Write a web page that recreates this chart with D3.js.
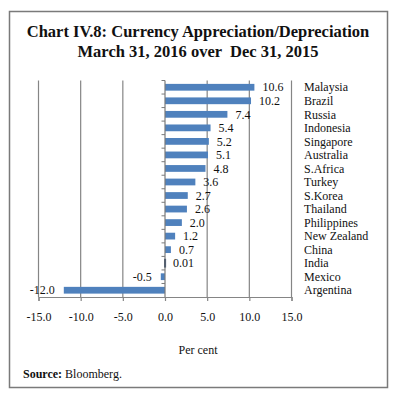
<!DOCTYPE html>
<html>
<head>
<meta charset="utf-8">
<script src="https://cdn.jsdelivr.net/npm/d3@7"></script>
<style>
  body { margin: 0; background: #fff; }
  svg { display: block; }
  text { font-family: "Liberation Serif", "DejaVu Serif", serif; fill: #111; }
</style>
</head>
<body>
<svg id="chart" width="396" height="393"></svg>
<script>
// chart data
const countries = ["Malaysia", "Brazil", "Russia", "Indonesia", "Singapore", "Australia",
  "S.Africa", "Turkey", "S.Korea", "Thailand", "Philippines", "New Zealand",
  "China", "India", "Mexico", "Argentina"];
const values = [10.6, 10.2, 7.4, 5.4, 5.2, 5.1, 4.8, 3.6, 2.7, 2.6, 2.0, 1.2, 0.7, 0.01, -0.5, -12.0];
const valueLabels = ["10.6", "10.2", "7.4", "5.4", "5.2", "5.1", "4.8", "3.6", "2.7", "2.6",
  "2.0", "1.2", "0.7", "0.01", "-0.5", "-12.0"];
const xTicks = [-15, -10, -5, 0, 5, 10, 15];
const highlight = "India";

const data = countries.map((c, i) => ({ name: c, value: values[i], label: valueLabels[i] }));

const svg = d3.select("#chart");

// outer frame
svg.append("rect")
  .attr("x", 9.5).attr("y", 11.5)
  .attr("width", 378).attr("height", 376)
  .attr("fill", "none")
  .attr("stroke", "#7a7a7a")
  .attr("stroke-width", 1.5);

// title
svg.append("text")
  .attr("x", 198).attr("y", 37)
  .attr("text-anchor", "middle")
  .style("font-size", "16.5px").style("font-weight", "bold")
  .text("Chart IV.8: Currency Appreciation/Depreciation");
svg.append("text")
  .attr("x", 198).attr("y", 57)
  .attr("text-anchor", "middle")
  .style("font-size", "16.5px").style("font-weight", "bold")
  .style("white-space", "pre")
  .text("March 31, 2016 over  Dec 31, 2015");

const x = d3.scaleLinear().domain([-15, 15]).range([38.5, 291.5]);
const y = d3.scaleBand().domain(countries).range([80.5, 297]).paddingInner(0.5).paddingOuter(0.25);
const band = d3.scaleBand().domain(countries).range([80.5, 297]);

// vertical gridlines
svg.append("g")
  .selectAll("line")
  .data(xTicks.filter(t => t !== 0))
  .join("line")
  .attr("x1", d => x(d)).attr("x2", d => x(d))
  .attr("y1", 80.5).attr("y2", 297)
  .attr("stroke", "#858585").attr("stroke-width", 1.2);

// x axis
const xAxis = svg.append("g")
  .attr("transform", "translate(0,297)")
  .call(d3.axisBottom(x).tickValues(xTicks).tickFormat(d3.format(".1f")).tickSize(4).tickPadding(11));
xAxis.select(".domain").attr("stroke", "#858585").attr("stroke-width", 1.2);
xAxis.selectAll(".tick line").attr("stroke", "#858585").attr("stroke-width", 1.2);
xAxis.selectAll(".tick text")
  .style("font-family", "\"Liberation Serif\", serif")
  .style("font-size", "12px").attr("fill", "#111")
  .text(d => d3.format(".1f")(d).replace("−", "-"));

// bars
svg.append("g")
  .selectAll("rect")
  .data(data)
  .join("rect")
  .attr("x", d => x(Math.min(0, d.value)))
  .attr("y", d => y(d.name))
  .attr("width", d => Math.abs(x(d.value) - x(0)))
  .attr("height", y.bandwidth())
  .attr("fill", d => d.name === highlight ? "#1f3a60" : "#4f81bd")
  .attr("stroke", d => d.name === highlight ? "#1f3a60" : "none")
  .attr("stroke-width", 2);

// y axis at zero, ticks at category boundaries
const yAxisG = svg.append("g");
yAxisG.append("line")
  .attr("x1", x(0)).attr("x2", x(0))
  .attr("y1", 80.5).attr("y2", 297)
  .attr("stroke", "#7a7a7a").attr("stroke-width", 1.2);
yAxisG.selectAll(".ytick")
  .data(countries)
  .join("line")
  .attr("class", "ytick")
  .attr("x1", x(0) - 3.5).attr("x2", x(0))
  .attr("y1", d => band(d)).attr("y2", d => band(d))
  .attr("stroke", "#7a7a7a");

// value labels
svg.append("g")
  .selectAll("text")
  .data(data)
  .join("text")
  .attr("x", d => d.value >= 0 ? x(d.value) + 8 : x(d.value) - 9)
  .attr("y", d => y(d.name) + y.bandwidth() / 2)
  .attr("dy", "0.35em")
  .attr("text-anchor", d => d.value >= 0 ? "start" : "end")
  .style("font-size", "12px")
  .text(d => d.label);

// country labels on the right
svg.append("g")
  .selectAll("text")
  .data(data)
  .join("text")
  .attr("x", 304)
  .attr("y", d => y(d.name) + y.bandwidth() / 2)
  .attr("dy", "0.35em")
  .style("font-size", "12px")
  .text(d => d.name);

// axis title
svg.append("text")
  .attr("x", 198).attr("y", 354)
  .attr("text-anchor", "middle")
  .style("font-size", "12px")
  .text("Per cent");

// source note
const src = svg.append("text")
  .attr("x", 23).attr("y", 378)
  .style("font-size", "12px");
src.append("tspan").style("font-weight", "bold").text("Source:");
src.append("tspan").text(" Bloomberg.");
</script>
</body>
</html>
